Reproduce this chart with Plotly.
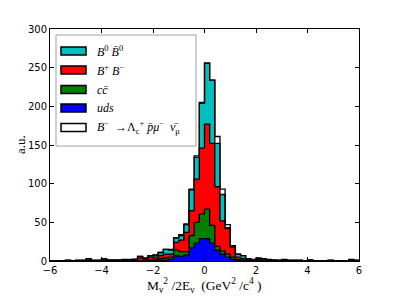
import numpy as np
import plotly.graph_objects as go

# ---- data: 60 bins of width 0.2 from -6 to 6 ----
bin_lo = -6.0
bin_w = 0.2
n_bins = 60

uds = [0, 0, 0, 0, 0, 0, 0, 0, 0, 0, 0, 0, 0, 0, 0, 0, 0, 0, 0,
       0.5, 1, 1, 1, 2, 7, 6, 8, 17, 23, 29, 29, 23, 14, 9, 5, 2, 1, 0.5,
       0, 0, 0, 0, 0, 0, 0, 0, 0, 0, 0, 0, 0, 0, 0, 0, 0, 0, 0, 0, 0, 0]

ccbar = [0, 0, 0, 0, 0, 0, 0, 0, 0, 0, 0, 0, 0, 0, 0, 0, 0, 0, 0,
         0.5, 1, 2, 3, 3, 7, 6, 4, 16, 27, 32, 38, 23, 5, 4, 4, 3, 1, 0.5,
         0, 0, 0, 0, 0, 0, 0, 0, 0, 0, 0, 0, 0, 0, 0, 0, 0, 0, 0, 0, 0, 0]

bpbm = [0.2, 0.2, 0.2, 0.4, 0.2, 0.4, 0.4, 1.2, 0.4, 0.4, 1.2, 0.6, 0.6, 0.6, 0.8, 0.8, 1.0,
        4, 2.5, 4, 3, 4, 5, 4, 10, 15, 25, 32, 56, 85, 110, 106, 77, 39, 33, 13, 3, 2, 1.5,
        0.8, 1.6, 1.2, 0.8, 0.6, 0.4, 0.8, 0.4, 0.4, 0.4, 0.2, 0.6, 0.2, 0.2, 0.2, 0.4, 0.2, 0.2, 0.2, 0.8, 0.4]

b0b0 = [0.2, 0.2, 0.2, 0.4, 0.2, 0.4, 0.4, 1.2, 0.4, 0.4, 1.2, 0.6, 0.6, 0.6, 0.8, 0.8, 1.0,
        2, 1, 1.5, 2.5, 4, 6, 5, 6, 6, 10, 27, 28, 58, 79, 82, 56, 34, 1, 2, 4, 4, 1,
        0.8, 1.6, 1.2, 0.8, 0.6, 0.4, 0.8, 0.4, 0.4, 0.4, 0.2, 0.6, 0.2, 0.2, 0.2, 0.4, 0.2, 0.2, 0.2, 0.8, 0.4]

signal = [0.1, 0.1, 0.1, 0.2, 0.1, 0.2, 0.2, 0.6, 0.2, 0.2, 0.6, 0.3, 0.3, 0.3, 0.4, 0.4, 0.5,
          0, 0.5, 0.5, 0.5, 0, 0, 1, 0, 1, 1, 1, 2, 1, 0, 0, 9, 7, 4, 0, 0, 0, 0.5,
          0.4, 0.8, 0.6, 0.4, 0.3, 0.2, 0.4, 0.2, 0.2, 0.2, 0.1, 0.3, 0.1, 0.1, 0.1, 0.2, 0.1, 0.1, 0.1, 0.4, 0.2]

x_ticks = [-6, -4, -2, 0, 2, 4, 6]
y_ticks = [0, 50, 100, 150, 200, 250, 300]

# stack order bottom -> top
layers = [
    (uds, "#0000FF"),
    (ccbar, "#008000"),
    (bpbm, "#FF0000"),
    (b0b0, "#00BFBF"),
    (signal, "#FFFFFF"),
]

edges = bin_lo + bin_w * np.arange(n_bins + 1)

fig = go.Figure()
cum = np.zeros(n_bins)
for i, (vals, col) in enumerate(layers):
    cum = cum + np.array(vals, dtype=float)
    y = np.append(cum, cum[-1])
    fig.add_trace(go.Scatter(
        x=edges, y=y, mode="lines", line=dict(shape="hv", color="black", width=1.3),
        fill="tozeroy" if i == 0 else "tonexty", fillcolor=col, showlegend=False,
        hoverinfo="skip"))

# ---- geometry (page body has an 8px margin) ----
OFF = 8
W, H = 391, 291
L, R_, T_, B_ = 42, 40, 21, 38
pw, ph = W - L - R_, H - T_ - B_

def px(xp):
    return (xp - OFF - L) / pw

def py(yp):
    return (H - B_ - (yp - OFF)) / ph

shapes = []
annotations = []
# legend frame
shapes.append(dict(type="rect", xref="paper", yref="paper", x0=px(56), x1=px(196),
                   y0=py(146), y1=py(35), fillcolor="white",
                   line=dict(color="#A0A0A0", width=1), layer="above"))
legend_rows = [51, 70, 89.5, 108, 127.5]
legend_cols = ["#00BFBF", "#FF0000", "#008000", "#0000FF", "#FFFFFF"]
legend_txt = [
    "<i>B</i><sup>0</sup> <i>B̄</i><sup>0</sup>",
    "<i>B</i><sup>+</sup> <i>B</i><sup>−</sup>",
    "<i>cc̄</i>",
    "<i>uds</i>",
    "<i>B</i><sup>−</sup>  →Λ<sub>c</sub><sup>+</sup> <i>p̄μ</i><sup>−</sup>  <i>ν̄</i><sub>μ</sub>",
]
for yr, col, txt in zip(legend_rows, legend_cols, legend_txt):
    shapes.append(dict(type="rect", xref="paper", yref="paper", x0=px(61), x1=px(86),
                       y0=py(yr + 4), y1=py(yr - 4), fillcolor=col,
                       line=dict(color="black", width=1.5), layer="above"))
    annotations.append(dict(xref="paper", yref="paper", x=px(95), y=py(yr),
                            xanchor="left", yanchor="middle", text=txt, showarrow=False,
                            font=dict(family="Liberation Serif", size=12, color="black")))

annotations.append(dict(xref="paper", yref="paper", x=px(204), y=py(285),
                        xanchor="center", yanchor="middle", showarrow=False,
                        text="M<sub>ν</sub><sup>2</sup> /2E<sub>ν</sub>  (GeV<sup>2</sup> /c<sup>4</sup> )",
                        font=dict(family="Liberation Serif", size=13.5, color="black")))
annotations.append(dict(xref="paper", yref="paper", x=px(20), y=py(145),
                        xanchor="center", yanchor="middle", showarrow=False, textangle=-90,
                        text="a.u.", font=dict(family="Liberation Serif", size=13, color="black")))

axis_common = dict(showline=True, linecolor="black", linewidth=1, mirror="ticks",
                   ticks="inside", ticklen=4, tickcolor="black", showgrid=False,
                   zeroline=False, tickfont=dict(family="DejaVu Sans", size=10, color="black"))

fig.update_layout(
    width=W, height=H,
    margin=dict(l=L, r=R_, t=T_, b=B_),
    paper_bgcolor="white", plot_bgcolor="white",
    xaxis=dict(range=[-6, 6], tickvals=x_ticks,
               ticktext=[("−" if v < 0 else "") + str(abs(v)) for v in x_ticks], **axis_common),
    yaxis=dict(range=[0, 300], tickvals=y_ticks, **axis_common),
    shapes=shapes, annotations=annotations, showlegend=False,
)

fig.write_html("out.html")
